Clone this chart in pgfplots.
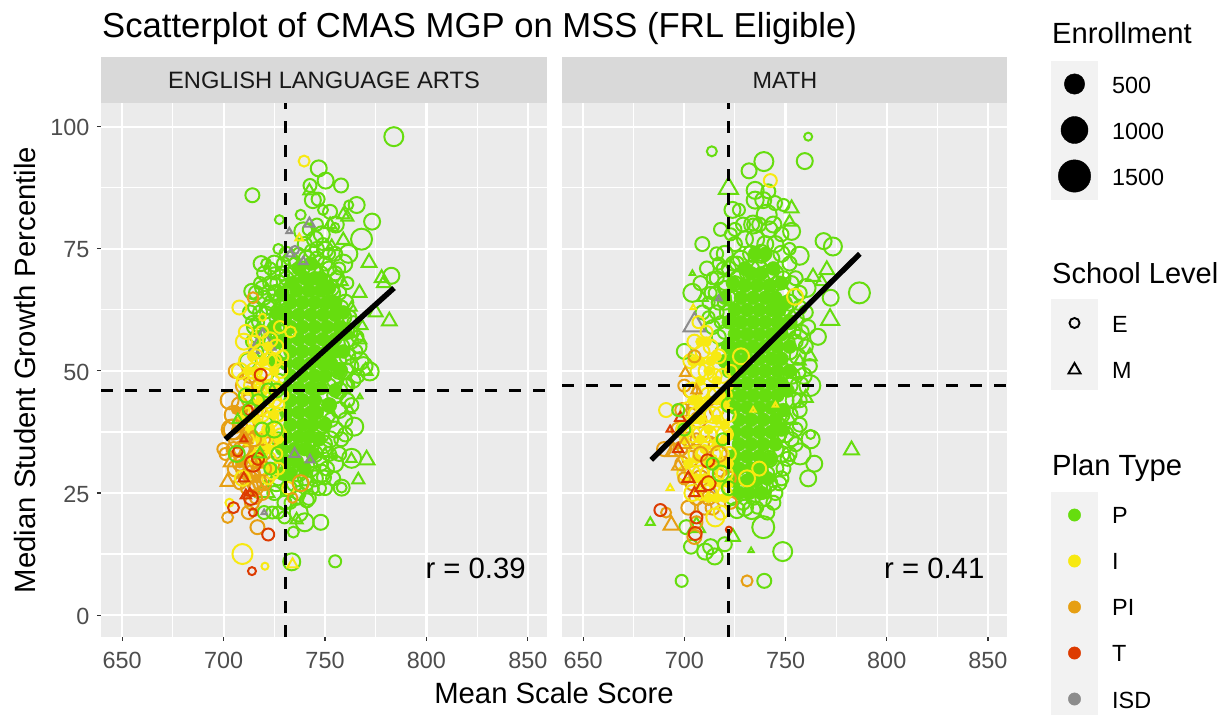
\documentclass[border=0pt]{standalone}
\usepackage{fontspec}
\setmainfont{Liberation Sans}
\usepackage{pgfplots}
\pgfplotsset{compat=1.18}
\definecolor{cP}{RGB}{102,221,14}
\definecolor{cI}{RGB}{247,233,17}
\definecolor{cPI}{RGB}{230,159,19}
\definecolor{cT}{RGB}{221,59,0}
\definecolor{cG}{RGB}{140,140,140}
\definecolor{panel}{RGB}{235,235,235}
\definecolor{strip}{RGB}{217,217,217}
\definecolor{keybg}{RGB}{242,242,242}
\definecolor{gt}{RGB}{77,77,77}
\definecolor{gk}{RGB}{51,51,51}
\newcommand{\fs}[1]{\fontsize{#1}{#1}\selectfont}
\pgfplotsset{
 dots/.style 2 args={scatter, only marks, mark=#1, line width=2pt,
   scatter/use mapped color={draw=#2,fill=none},
   visualization depends on={\thisrow{s}\as\ms},
   scatter/@pre marker code/.append style={/tikz/mark size=\ms}},
 core/.style={only marks, mark=*, mark size=7pt, draw=cP, fill=cP, color=cP, mark options={draw=cP,fill=cP}},
 ycore/.style={only marks, mark=*, mark size=5pt, draw=cI, fill=cI, color=cI, mark options={draw=cI,fill=cI}},
 ocore/.style={only marks, mark=*, mark size=4.5pt, draw=cPI, fill=cPI, color=cPI, mark options={draw=cPI,fill=cPI}},
 panel/.style={scale only axis, anchor=south west, width=446pt, height=534pt,
   clip marker paths=true,
   xmin=639.6, xmax=859.4, ymin=-4.5, ymax=104.9,
   axis background/.style={fill=panel},
   xtick={650,700,750,800,850}, ytick={0,25,50,75,100},
   minor xtick={675,725,775,825}, minor ytick={12.5,37.5,62.5,87.5},
   xmajorgrids, ymajorgrids, xminorgrids, yminorgrids,
   major grid style={white,line width=2.1pt},
   minor grid style={white,line width=1.05pt},
   axis line style={draw=none},
   xtick pos=lower, ytick pos=left, tick align=outside,
   major tick length=4pt, minor tick length=0pt,
   major tick style={gk,line width=1.05pt},
   /pgf/number format/assume math mode=true,
   tick label style={font=\fs{23.4},text=gt},
   xticklabel style={yshift=-8pt}, yticklabel style={xshift=-4pt,yshift=-1pt}},
 dashl/.style={black,line width=3pt,dash pattern=on 12pt off 12pt,no markers},
 regl/.style={black,line width=5.4pt,no markers,line cap=butt}
}
\begin{document}
\begin{tikzpicture}[x=1pt,y=1pt]
\useasboundingbox (0,0) rectangle (1226,715);
% static layer: px coordinates, y downward
\begin{axis}[at={(0pt,0pt)},anchor=south west,scale only axis,width=1226pt,height=715pt,
  xmin=0,xmax=1226,ymin=0,ymax=715,y dir=reverse,hide axis,clip=false]
\fill[strip] (axis cs:101,57) rectangle (axis cs:547,103);
\fill[strip] (axis cs:562,57) rectangle (axis cs:1007,103);
\fill[keybg] (axis cs:1051,61) rectangle (axis cs:1098,200);
\fill[keybg] (axis cs:1051,299) rectangle (axis cs:1098,390);
\fill[keybg] (axis cs:1051,492) rectangle (axis cs:1098,715);
\node[anchor=center,text=black!90,font=\fs{23.7}] at (axis cs:324,80) {ENGLISH LANGUAGE ARTS};
\node[anchor=center,text=black!90,font=\fs{23.4}] at (axis cs:785,80) {MATH};
\node[anchor=base west,inner sep=0pt,font=\fs{34.65}] at (axis cs:102,37) {Scatterplot of CMAS MGP on MSS (FRL Eligible)};
\node[anchor=center,font=\fs{29.3}] at (axis cs:554,693) {Mean Scale Score};
\node[anchor=center,rotate=90,font=\fs{29.3}] at (axis cs:25,370) {Median Student Growth Percentile};
\node[anchor=base west,inner sep=0pt,font=\fs{29.2}] at (axis cs:1052,43) {Enrollment};
\node[anchor=base west,inner sep=0pt,font=\fs{29}] at (axis cs:1052,283) {School Level};
\node[anchor=base west,inner sep=0pt,font=\fs{29.2}] at (axis cs:1052,475) {Plan Type};
\addplot[only marks,mark=*,mark size=10.2pt,black] coordinates {(1074.5,84)};
\addplot[only marks,mark=*,mark size=13.5pt,black] coordinates {(1074.5,130)};
\addplot[only marks,mark=*,mark size=16.2pt,black] coordinates {(1074.5,176)};
\addplot[only marks,mark=o,mark size=5pt,black,line width=1.9pt] coordinates {(1074.5,323)};
\addplot[only marks,mark=triangle,mark size=7pt,black,line width=1.9pt] coordinates {(1074.5,370)};
\addplot[only marks,mark=*,mark size=6.2pt,cP,mark options={draw=cP,fill=cP}] coordinates {(1074.5,515)};
\addplot[only marks,mark=*,mark size=6.2pt,cI,mark options={draw=cI,fill=cI}] coordinates {(1074.5,561)};
\addplot[only marks,mark=*,mark size=6.2pt,cPI,mark options={draw=cPI,fill=cPI}] coordinates {(1074.5,607)};
\addplot[only marks,mark=*,mark size=6.2pt,cT,mark options={draw=cT,fill=cT}] coordinates {(1074.5,653)};
\addplot[only marks,mark=*,mark size=6.2pt,cG,mark options={draw=cG,fill=cG}] coordinates {(1074.5,699)};
\foreach \t/\y in {500/85,1000/131,1500/177,E/324,M/370,P/515,I/561,PI/607,T/653,ISD/700}{
 \edef\tmp{\noexpand\node[anchor=west,inner sep=0pt,font=\noexpand\fs{23.4}] at (axis cs:1112,\y) {\t};}\tmp }
\end{axis}

% ---------- left panel ----------
\begin{axis}[panel,at={(101pt,78pt)}]
\addplot[core] coordinates {(740,69)(745,69)(736,66.5)(742,66.5)(748,66.5)(733,64)(739,64)(745,64)(751,64)(731,61.5)(737,61.5)(743,61.5)(749,61.5)(755,61.5)(733,59)(739,59)(745,59)(751,59)(757,59)(731,56.5)(737,56.5)(743,56.5)(749,56.5)(755,56.5)(733,54)(739,54)(745,54)(751,54)(755,54)(731,51.5)(737,51.5)(743,51.5)(749,51.5)(753,51.5)(733,49)(739,49)(745,49)(750,49)(731,46.5)(737,46.5)(743,46.5)(748,46.5)(733,44)(739,44)(745,44)(731,41.5)(737,41.5)(743,41.5)(746,41.5)(733,39)(739,39)(744,39)(731,36.5)(737,36.5)(742,36.5)(729,34)(735,34)(740,34)(731,31.5)(736,31.5)(729,29)(733,29)
(748,69)(752,67)(755,64)(759,62)(760,58)(759,54)(757,50)(755,46)(752,43)(750,39)(747,36)(744,33)(740,30)(737,71)(743,72)(734,68)(729,66)(727,62)(725,59)(727,56)(726,52)};
% green circles, first layer
\addplot[dots={o}{cP}] table[row sep=\\]{x y s\\
783.9 98 9.5\\746.9 91.5 8\\750.3 89 8\\757.9 88 7\\742.6 88 6.5\\714.2 86 7\\744 85 8\\746.6 85.2 6.5\\765.6 84 8\\761.7 84 4.5\\752.5 82.6 7\\749 83 5\\755.3 80 8\\755 79.5 4\\773.2 80.6 8\\768 77 10.5\\727.5 81 4.5\\739.3 78.6 9\\748.4 78 8\\761.5 74 9\\759 72 9\\750 74.8 8\\743.5 74.5 7\\782.7 69.5 8\\718.5 72 7.5\\725 72 8\\729.5 72 6.5\\713.9 66.3 7.5\\
720 70 7\\723 68 7\\727 68 8\\731 69 7\\735 70 8\\739 71 7\\744 71 8\\748 70 7\\752 71 7\\756 69 7\\716 66 7\\720 65 7\\724 64 8\\728 65 7\\718 62 7\\722 60 8\\726 61 7\\715 59 7\\720 57 7\\724 56 8\\716 54 7\\712 52 8\\728 58 7\\753 67 8\\757 66 7\\760 64 8\\762 61 7\\759 58 8\\763 56 7\\761 53 8\\765 54 7\\760 50 8\\764 48 7\\757 46 8\\761 44 7\\757 42 8\\760 40 7\\755 38 8\\758 36 7\\752 33 7\\755 31 8\\751 30 7\\748 31 7\\745 28 8\\741 27 7\\737 29 8\\733 30 7\\745 33 8\\749 39 8\\752 43 7\\755 48 8\\727 28 7\\726 27 8\\742 24 7\\736 24 7\\730 23 7\\725 25 7\\727 21 6\\740 76 7\\745 77 8\\750 72 7\\755 74 7\\737 74 6\\
726 66 8\\729 63 7\\733 67 7\\737 68 8\\741 73 8\\746 73 7\\750 68 8\\754 66 7\\752 63 8\\756 62 7\\759 61 8\\761 58 7\\758 55 8\\757 52 7\\760 47 7\\757 50 8\\755 45 8\\752 47 7\\751 41 8\\748 37 8\\745 36 7\\746 43 7\\753 40 7\\750 34 7\\743 30 8\\740 28 7\\747 26 7\\735 27 8\\729 31 7\\727 36 7\\726 41 7\\727 48 7\\726 52 7\\725 58 7\\727 62 8\\731 67 8\\735 72 6\\739 68 7\\744 67 7\\748 63 7\\755 70 7\\758 63 7\\763 58 6\\749 76 6\\742 79 6\\731 74 7\\727 75 5\\746 80 6\\738 82 5\\722 66 7\\718 68 6\\713 62 7\\717 60 6\\714 56 6\\721 62 6\\723 71 6\\
719 67 7\\725 70 6\\721 72 5\\729 70 7\\715 63 6\\718 58 7\\722 63 7\\725 66 7\\727 59 6\\723 58 6\\720 54 7\\725 54 6\\714 60 6\\716 57 6\\733 73 7\\746 75 7\\752 74 6\\757 71 6\\761 68 6\\764 60 6\\766 57 6\\767 55 7\\763 51 7\\761 47 7\\763 43 7\\760 37 7\\757 33 7\\754 28 7\\750 26 7\\744 26 6\\737 25 7\\733 23 6\\
764.4 38.6 9\\763.1 32.1 9.5\\772 49.9 9\\769 51 9\\767 52 9\\766 49 7\\754.6 32.5 3\\758.2 26.1 8\\758.2 26.1 5\\747.9 19 7.5\\755 11 6\\733.6 10.9 8.5\\734.4 17 5.5\\740 19 9\\737 21 9\\748 29 9\\749.5 28.2 7\\724 21 6\\752.5 36 8\\749 35 9\\741 23.5 7\\720 21 6.5\\730 20 6\\732 26 8\\};
\addplot[dots={triangle}{cP}] table[row sep=\\]{x y s\\
742.3 86.9 7\\759 82 7\\761 81.5 7\\752.5 80 7\\759 76.8 7.5\\753.3 75.5 7\\771.7 72.2 8.5\\777.9 69 8\\779 68 8\\767 66 8\\758.2 68.3 7\\775 62 8\\781.7 60.2 8.5\\768.4 59.2 6\\767.2 56.4 7.5\\763 63 6\\770 50 8\\763 32 6\\770.5 31.8 9\\766.4 27.7 7\\736 19.5 7\\720.4 25.3 11\\767.2 44.7 3\\750 33 6\\744 31 7\\762 42 6\\};
% grey
\addplot[dots={triangle}{cG}] table[row sep=\\]{x y s\\
742.3 80.2 6\\732.4 78.6 3.5\\733 74 5\\739.3 72.4 5\\719.3 56.4 11\\714.8 54.3 6\\723 55 6\\742.6 31.8 5\\735 33 6\\720 21 3\\};
\addplot[dots={o}{cG}] table[row sep=\\]{x y s\\735.2 74.8 4\\};
% orange below yellow
\addplot[dots={o}{cPI}] table[row sep=\\]{x y s\\
703 44 9\\705 41 9\\708 43 8\\704 38 10\\707 36 9\\711 39 8\\714 42 7\\709 34 8\\712 33 8\\716 35 7\\706 30 8\\710 30 8\\714 29 8\\718 30 7\\712 26 7\\716 26 7\\720 27 7\\708 27 6\\713 49 7\\710 47 8\\706 50 7\\718 38 7\\722 35 7\\720 33 6\\724 31 7\\718 27 7\\714 23 7\\705 34 7\\708 31 7\\711 28 7\\715 27 7\\719 25 7\\716 24 6\\708 39 7\\712 37 7\\716 32 7\\720 36 6\\712 44 6\\718 42 6\\};
% yellow
\addplot[ycore] coordinates {(720,52)(724,46)(720,44)(725,41)(722,38)(718,48)(716,40)(725,50)(722,34)(718,36)(716,50)(712,46)(716,46)(712,50)(713,38)(709,40)(719,31)(723,30)(727,36)(727,47)(714,53)(722,55)};
\addplot[ocore] coordinates {(706,38)(710,36)(714,33)(708,31)(712,29)(716,28)(719,33)(706,42)(710,42)(715,37)};
\addplot[dots={o}{cI}] table[row sep=\\]{x y s\\
739.7 93 5.5\\707.8 63 7\\719.2 61 3.5\\711 58 7\\722.9 56.4 7.5\\727.8 59 6\\733 58 5.5\\709.3 12.5 10\\720.4 10 3.5\\702.9 23 4\\709.3 28 7.5\\722 32 7.5\\731.9 26 6\\
710 56 8\\712 52 9\\708 50 8\\711 48 9\\715 50 8\\718 54 7\\722 52 8\\726 55 7\\720 49 8\\724 48 7\\728 50 7\\713 45 8\\717 45 7\\721 44 8\\725 44 7\\729 45 6\\719 41 7\\723 40 8\\727 41 7\\720 36 8\\724 36 7\\728 37 6\\718 33 7\\726 33 6\\724 29 6\\716 53 7\\714 47 8\\718 46 7\\722 42 7\\726 38 7\\716 42 7\\712 41 7\\722 38 6\\716 32 7\\712 36 6\\719 58 6\\725 52 7\\729 53 6\\715 56 6\\723 47 6\\727 43 6\\719 34 7\\722 28 6\\727 30 6\\};
\addplot[dots={triangle}{cI}] table[row sep=\\]{x y s\\737.3 77.2 4.5\\734 10.4 6\\};
% orange on top
\addplot[dots={o}{cPI}] table[row sep=\\]{x y s\\
714.5 65 5.5\\702 20 5.5\\716.7 18 7\\738 27 8\\734 24 5\\699.9 34 6\\701 33 6\\712.2 21 6.5\\705 38 10\\717 47 6\\715 36 7\\720 30 7\\713 31 7\\};
\addplot[dots={triangle}{cPI}] table[row sep=\\]{x y s\\702 27.3 8\\704 31.4 9\\711 36 7\\717 31 7\\};
% red
\addplot[dots={o}{cT}] table[row sep=\\]{x y s\\722 16.5 6\\714 9 4\\704.9 22 5.5\\714.5 21 4\\713.5 24 7\\718.3 49.2 6\\707 33.5 5\\714.5 31 8\\717 32 6\\712 42 5\\};
\addplot[dots={triangle}{cT}] table[row sep=\\]{x y s\\710 28 6\\711 24.5 6\\713 25 5\\710 36 4\\};
% green circles on top of the warm colours
\addplot[dots={o}{cP}] table[row sep=\\]{x y s\\706.5 33 8\\713 42 7\\722 46 7\\719 38 7\\717 44 6\\725 38 8\\727 33 7\\726 46 7\\723 30 6\\711 45 7\\};
\addplot[dots={triangle}{cP}] table[row sep=\\]{x y s\\718 33 7\\707 40 6\\};
\addplot[regl] coordinates {(700.9,36)(784,67)};
\addplot[dashl] coordinates {(730.5,-4.5)(730.5,104.9)};
\addplot[dashl] coordinates {(639.6,46)(859.4,46)};
\node[anchor=east,inner sep=0pt,font=\fs{29.3}] at (axis cs:849,9.6) {r = 0.39};
\end{axis}

% ---------- right panel ----------
\begin{axis}[panel,at={(562pt,78pt)},width=445pt,yticklabels={},ytick style={draw=none}]
\addplot[core] coordinates {(733,70)(738,70)(730,67.5)(736,67.5)(742,67.5)(728,65)(734,65)(740,65)(745,65)(725,62.5)(731,62.5)(737,62.5)(743,62.5)(747,62.5)(728,60)(734,60)(740,60)(746,60)(725,57.5)(731,57.5)(737,57.5)(743,57.5)(748,57.5)(728,55)(734,55)(740,55)(746,55)(725,52.5)(731,52.5)(737,52.5)(743,52.5)(748,52.5)(722,50)(728,50)(734,50)(740,50)(746,50)(725,47.5)(731,47.5)(737,47.5)(743,47.5)(748,47.5)(722,45)(728,45)(734,45)(740,45)(746,45)(725,42.5)(731,42.5)(737,42.5)(743,42.5)(727,40)(733,40)(739,40)(745,40)(725,37.5)(731,37.5)(737,37.5)(743,37.5)(727,35)(733,35)(739,35)(725,32.5)(731,32.5)(737,32.5)(727,30)(733,30)(738,30)(725,27.5)(731,27.5)(735,27.5)(727,25)(732,25)
(735,74)(740,74)(730,71)(744,71)(748,68)(750,64)(752,60)(752,55)(752,50)(751,46)(749,42)(748,38)(745,35)(742,32)(741,28)(738,25)(722,60)(722,55)(720,65)(724,68)(720,52)};
\addplot[dots={o}{cP}] table[row sep=\\]{x y s\\
761.2 98 4\\713.6 95 5\\759.5 93 8\\739.3 92.9 9.5\\732 91 7.5\\735 87 8.5\\735 85 8.5\\741.5 86.8 7\\739 85 8\\744.8 84.4 7\\749 84 6\\740.7 82 10\\723.8 83 8\\725 79 6.5\\717.9 79 6.5\\734 80 9\\734 80 6\\753 78.6 8.5\\708.9 76 7\\716 74 6.5\\720 74 8\\757 73.6 9\\768.8 76.6 8\\773.4 75.5 9\\711.2 71 7\\704 66 9\\786.5 66 10.5\\772.3 65 8\\761.2 59 7\\766 57 8\\756.2 56.4 10\\760.4 67 9\\
725 76 7\\730 77 8\\735 77 9\\740 76 8\\745 76 8\\728 73 8\\733 74 8\\738 74 9\\743 73 8\\748 74 8\\752 72 7\\722 71 7\\726 69 7\\745 70 8\\749 69 7\\753 68 7\\716 69 7\\720 67 7\\713 66 6\\717 64 7\\721 62 7\\712 61 6\\748 66 8\\752 64 8\\755 61 8\\751 59 8\\755 56 7\\752 54 8\\756 50 8\\753 49 8\\757 47 9\\762 47 10.5\\754 44 8\\757 42 7\\752 41 8\\755 38 7\\750 37 8\\753 36 7\\748 33 8\\751 32 7\\745 30 8\\748 28 7\\742 27 8\\745 25 7\\739 24 8\\
726 72 7\\731 70 7\\741 70 8\\746 68 7\\750 63 8\\752 60 7\\754 58 7\\751 56 7\\749 50 8\\752 47 8\\750 44 8\\748 41 8\\747 37 7\\745 34 8\\742 32 8\\741 29 7\\737 26 8\\734 24 7\\729 23 7\\724 24 7\\722 28 7\\722 35 7\\720 58 7\\722 65 7\\718 60 6\\723 60 6\\725 68 7\\719 71 6\\715 66 6\\737 71 8\\733 71 8\\742 79 8\\737 80 7\\729 80 7\\744 80 8\\748 78 7\\752 75 6\\723 78 6\\727 83 6\\755 69 7\\757 63 7\\760 55 7\\756 53 8\\757 44 7\\
709 62 7\\714 59 7\\717 57 7\\722 55 7\\719 54 7\\712 64 6\\716 62 7\\720 68 7\\724 72 7\\717 72 6\\714 69 6\\708 68 7\\725 65 7\\720 64 7\\760 62 7\\758 58 7\\757 66 7\\762 51 7\\759 49 8\\757 39 7\\755 35 7\\752 33 7\\749 30 7\\747 27 7\\744 23 7\\741 21 7\\
700 54 7.5\\757.2 33 10.5\\764.2 31 8\\761.2 28 8\\762.4 36 9\\762.4 37 4.5\\739 18 11\\748.6 13 9.5\\739.5 7 7\\698.7 7 6\\703.3 14 7\\710.3 13 8\\715 12 8\\713 14 7.5\\720 14.5 7\\701 18 7\\733.3 21.5 9\\726 21.5 8\\739 25.5 8\\730 22 8\\736 22 6\\};
\addplot[dots={triangle}{cP}] table[row sep=\\]{x y s\\
721.8 87.4 11\\753 83.3 8\\752 80.5 7\\770.4 70.7 8.5\\763.6 69.3 8\\767.8 68.3 7\\772 60.5 10.5\\704 70 3\\709 65 6\\782.6 33.8 8.5\\752 40 8\\760 44.5 8\\762 53 8\\757 52 7\\724 16 8\\733 13.2 3\\706 18 10\\683.2 19 5\\};
\addplot[dots={triangle}{cG}] table[row sep=\\]{x y s\\705 59.4 12.5\\717 64.8 3.5\\714 25 6\\};
% orange below yellow
\addplot[dots={o}{cPI}] table[row sep=\\]{x y s\\703 46 7\\705 42 8\\700 38 8\\707 40 8\\712 35 8\\716 42 7\\703 32 8\\708 28 8\\718 30 8\\722 28 7\\712 24 7\\706 24 7\\698 34 7\\697 38 7\\699 42 7\\702 36 7\\700 47 6\\703 41 7\\706 36 6\\699 31 7\\704 27 7\\710 22 7\\714 22 7\\706 19 6\\702 22 7\\715 35 6\\720 31 7\\723 23 6\\};
\addplot[ycore] coordinates {(708,48)(712,44)(716,48)(720,43)(712,38)(716,40)(720,36)(708,36)(704,40)(706,32)(710,34)(714,32)(718,31)(722,37)(714,27)(718,27)(710,28)(722,31)(708,52)(713,52)(718,45)(711,56)(704,44)(700,36)(702,31)(706,28)(712,24)(716,24)(720,24)(706,44)(712,50)(716,53)(704,52)(708,56)(722,47)(722,27)(716,35)(712,31)(708,43)(716,44)(720,39)(708,40)};
\addplot[dots={o}{cI}] table[row sep=\\]{x y s\\
742.5 89 6.5\\754.7 65.2 8\\728 53 8\\691 42 7\\715.3 20 9\\
707 60 6\\711 58 6\\705 56 7\\709 54 7\\713 55 7\\717 53 7\\703 52 7\\707 50 8\\711 50 8\\715 49 7\\719 49 7\\723 50 6\\704 46 8\\708 46 8\\712 45 8\\716 45 8\\720 45 7\\702 42 8\\706 41 8\\710 41 8\\714 41 8\\718 41 8\\722 41 7\\700 38 8\\704 37 8\\708 37 8\\712 37 8\\716 37 8\\720 37 8\\702 33 8\\706 33 8\\710 33 8\\714 33 8\\718 33 8\\722 33 7\\700 29 7\\704 29 8\\708 29 8\\712 29 8\\716 29 8\\720 29 8\\704 25 8\\708 25 7\\712 25 8\\716 25 8\\720 25 7\\718 21 7\\731 28 8\\737 30 7\\};
\addplot[dots={triangle}{cI}] table[row sep=\\]{x y s\\704.4 63 3\\693 26 4\\734 42 3\\745 43 3\\};
\addplot[dots={o}{cPI}] table[row sep=\\]{x y s\\731 7 5.5\\691 21 5\\690 34 7\\705 53 6\\717 33 8\\708 33 7\\705 16 7\\700 28 6\\};
\addplot[dots={triangle}{cPI}] table[row sep=\\]{x y s\\693.6 18.4 9\\700.5 49.6 6\\694.6 33.5 9\\700 35 8\\697 30.5 7\\706 46 6\\};
\addplot[dots={o}{cT}] table[row sep=\\]{x y s\\688.2 21.5 6\\711.5 31.6 6.5\\705.4 16.7 6.5\\722 17.5 3\\706 20 6\\712 27 7\\};
\addplot[dots={triangle}{cT}] table[row sep=\\]{x y s\\698 40.4 6\\693 38 4\\697 34 6\\702 28 7\\705 25 6\\708 26 6\\};
\addplot[dots={o}{cP}] table[row sep=\\]{x y s\\697 42 6\\700 38 6\\718 29 8\\722 26 7\\722 43 7\\719 36 6\\714 31 6\\};
\addplot[regl] coordinates {(683.7,31.8)(786.7,74)};
\addplot[dashl] coordinates {(722,-4.5)(722,104.9)};
\addplot[dashl] coordinates {(639.6,47)(859.4,47)};
\node[anchor=east,inner sep=0pt,font=\fs{29.3}] at (axis cs:848.3,9.6) {r = 0.41};
\end{axis}
\end{tikzpicture}
\end{document}
